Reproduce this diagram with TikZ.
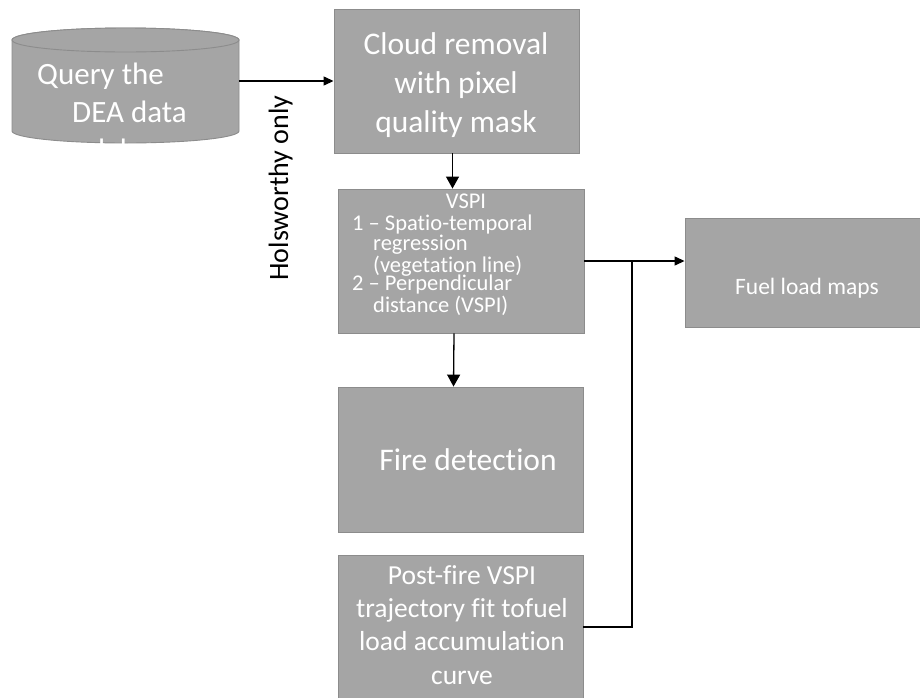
\documentclass[tikz,border=0pt]{standalone}
\usepackage{fontspec}
\setmainfont{Carlito}[Ligatures=NoCommon]
\usetikzlibrary{arrows.meta}
\definecolor{boxgrey}{HTML}{A5A5A5}
\definecolor{edgegrey}{HTML}{8C8C8C}
\tikzset{
  procbox/.style={draw=edgegrey, fill=boxgrey, line width=0.9pt, inner sep=0pt},
  boxtext/.style={text=white, inner sep=0pt},
  flowdown/.style={line width=1.3pt, -{Triangle[length=12pt,width=13pt]}},
  flowright/.style={line width=1.3pt, -{Triangle[length=10pt,width=9pt]}},
  link/.style={line width=1.3pt},
}
\begin{document}
\begin{tikzpicture}[x=1pt,y=-1pt]
\useasboundingbox (0,0) rectangle (920,697);
\clip (0,0) rectangle (920,697);
\fill[white] (0,0) rectangle (920,697);

% data store (cylinder)
\node[inner sep=0pt, minimum width=227pt, minimum height=115pt] (db) at (125.5,85.5) {};
\path[procbox] (12,40) -- (12,131) arc[start angle=180, end angle=0, x radius=113.5, y radius=12]
  -- (239,40) arc[start angle=0, end angle=-180, x radius=113.5, y radius=12] -- cycle;
\path[procbox] (125.5,40) ellipse [x radius=113.5, y radius=12];
\node[boxtext, anchor=base west, font=\fontsize{31}{36}\selectfont] (dbl1) at (37,84) {Query the};
\node[boxtext, anchor=base west, font=\fontsize{31}{36}\selectfont] (dbl2) at (72,122) {DEA data};
\node[boxtext, anchor=base west, font=\fontsize{31}{36}\selectfont] (dbl3) at (98,160) {lake};

% process boxes
\node[procbox, minimum width=245pt, minimum height=144pt] (cloud) at (456.5,81) {};
\node[procbox, minimum width=246pt, minimum height=144pt] (vspi) at (461,261) {};
\node[procbox, minimum width=245pt, minimum height=145pt] (fire) at (460.5,459.5) {};
\node[procbox, minimum width=245pt, minimum height=155pt] (post) at (460.5,632.5) {};
\node[procbox, minimum width=236pt, minimum height=109pt] (fuel) at (803,272.5) {};

% box texts
\node[boxtext, align=center, anchor=north, font=\fontsize{31.5}{39}\selectfont] (cloudtxt) at (456,32.5)
  {Cloud removal\\with pixel\\quality mask};
\node[boxtext, anchor=base, font=\fontsize{22.5}{21}\selectfont] (vspihead) at (466,208) {VSPI};
\node[boxtext, align=left, anchor=base west, font=\fontsize{22.5}{20}\selectfont] (vspistep1) at (352,272)
  {1 – Spatio-temporal\\\hspace*{21pt}regression\\\hspace*{21pt}(vegetation line)};
\node[boxtext, align=left, anchor=base west, font=\fontsize{22.5}{20}\selectfont] (vspistep2) at (352,312)
  {2 – Perpendicular\\\hspace*{21pt}distance (VSPI)};
\node[boxtext, anchor=base, font=\fontsize{31.5}{36}\selectfont] (firetxt) at (468,470) {Fire detection};
\node[boxtext, align=center, anchor=north, font=\fontsize{27.5}{33.3}\selectfont] (posttxt) at (462,565)
  {Post-fire VSPI\\trajectory fit tofuel\\load accumulation\\curve};
\node[boxtext, anchor=base, font=\fontsize{23.5}{28}\selectfont] (fueltxt) at (807,294) {Fuel load maps};

% rotated edge label
\node[inner sep=0pt, anchor=base, rotate=90, font=\fontsize{28}{32}\selectfont] (hols) at (288,188) {Holsworthy only};

% connectors
\coordinate (j) at (632,261);
\coordinate (jb) at (632,627);
\draw[flowright] (db.east |- cloud.west) -- (cloud.west);
\draw[flowdown] ([xshift=-4pt]cloud.south) -- ([xshift=-4pt]cloud.south |- vspi.north);
\draw[flowright] (vspi.east) -- (fuel.west |- vspi.east);
\draw[flowdown] ([xshift=-7pt]vspi.south) -- ([xshift=-7pt]fire.north);
\draw[link] (post.east |- jb) -- (jb) -- (j);
\end{tikzpicture}
\end{document}
